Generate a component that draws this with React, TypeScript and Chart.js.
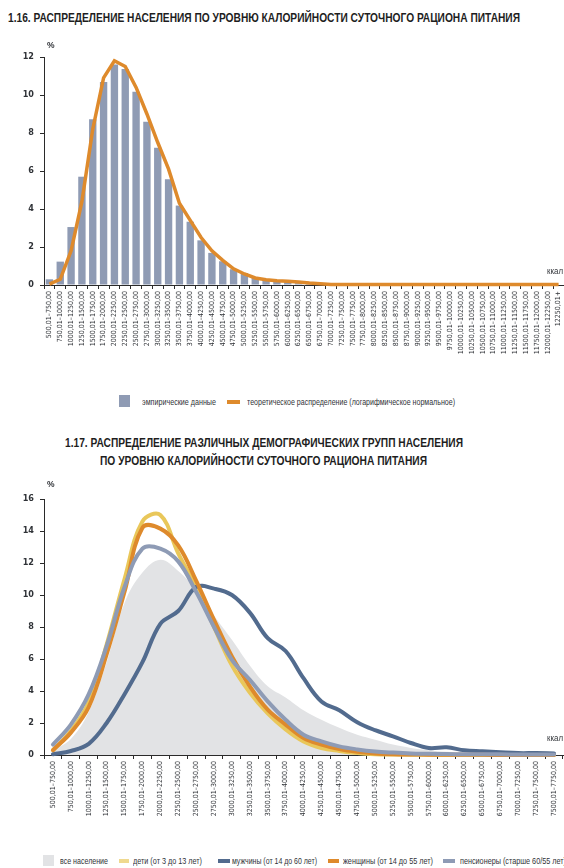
import React, { useEffect, useLayoutEffect, useRef } from 'react';
import { Chart, registerables } from 'chart.js';
Chart.register(...registerables);

const FONT = "'DejaVu Sans Condensed', 'Liberation Sans', sans-serif";
const HFONT = "'Liberation Sans', 'DejaVu Sans', sans-serif";
const TEXT = '#2f3237';

// ---------- Chart 1.16 ----------
const labels116 = [
  '500,01–750,00', '750,01–1000,00', '1000,01–1250,00', '1250,01–1500,00', '1500,01–1750,00',
  '1750,01–2000,00', '2000,01–2250,00', '2250,01–2500,00', '2500,01–2750,00', '2750,01–3000,00',
  '3000,01–3250,00', '3250,01–3500,00', '3500,01–3750,00', '3750,01–4000,00', '4000,01–4250,00',
  '4250,01–4500,00', '4500,01–4750,00', '4750,01–5000,00', '5000,01–5250,00', '5250,01–5500,00',
  '5500,01–5750,00', '5750,01–6000,00', '6000,01–6250,00', '6250,01–6500,00', '6500,01–6750,00',
  '6750,01–7000,00', '7000,01–7250,00', '7250,01–7500,00', '7500,01–7750,00', '7750,01–8000,00',
  '8000,01–8250,00', '8250,01–8500,00', '8500,01–8750,00', '8750,01–9000,00', '9000,01–9250,00',
  '9250,01–9500,00', '9500,01–9750,00', '9750,01–10000,00', '10000,01–10250,00', '10250,01–10500,00',
  '10500,01–10750,00', '10750,01–11000,00', '11000,01–11250,00', '11250,01–11500,00', '11500,01–11750,00',
  '11750,01–12000,00', '12000,01–12250,00', '12250,01+',
];
const empirical116 = [
  0.3, 1.23, 3.05, 5.7, 8.73, 10.69, 11.6, 11.37, 10.17, 8.59,
  7.23, 5.56, 4.18, 3.33, 2.35, 1.69, 1.25, 0.83, 0.63, 0.37,
  0.28, 0.2, 0.15, 0.1, 0.08, 0.05, 0.04, 0.03, 0.02, 0.02,
  0.01, 0.01, 0.01, 0.01, 0, 0, 0, 0, 0, 0,
  0, 0, 0, 0, 0, 0, 0, 0,
];
const theoretical116 = [
  0.05, 0.3, 1.8, 4.4, 8.2, 10.9, 11.8, 11.5, 10.4, 9.0,
  7.5, 6.1, 4.3, 3.4, 2.5, 1.8, 1.3, 0.85, 0.58, 0.37,
  0.28, 0.22, 0.2, 0.16, 0.1, 0.06, 0.03, 0.03, 0.03, 0.03,
  0.03, 0.03, 0.03, 0.03, 0.03, 0.03, 0.03, 0.03, 0.03, 0.03,
  0.03, 0.03, 0.03, 0.03, 0.03, 0.03, 0.03, 0.03,
];
const yTicks116 = [0, 2, 4, 6, 8, 10, 12];

// ---------- Chart 1.17 ----------
const labels117 = [
  '500,01–750,00', '750,01–1000,00', '1000,01–1250,00', '1250,01–1500,00', '1500,01–1750,00',
  '1750,01–2000,00', '2000,01–2250,00', '2250,01–2500,00', '2500,01–2750,00', '2750,01–3000,00',
  '3000,01–3250,00', '3250,01–3500,00', '3500,01–3750,00', '3750,01–4000,00', '4000,01–4250,00',
  '4250,01–4500,00', '4500,01–4750,00', '4750,01–5000,00', '5000,01–5250,00', '5250,01–5500,00',
  '5500,01–5750,00', '5750,01–6000,00', '6000,01–6250,00', '6250,01–6500,00', '6500,01–6750,00',
  '6750,01–7000,00', '7000,01–7250,00', '7250,01–7500,00', '7500,01–7750,00',
];
const allPop117 = [
  0.3, 1.0, 2.7, 5.8, 9.5, 11.4, 12.2, 11.5, 10.3, 8.7,
  7.2, 5.6, 4.3, 3.6, 2.8, 2.2, 1.7, 1.27, 0.96, 0.65,
  0.44, 0.3, 0.2, 0.15, 0.1, 0.08, 0.05, 0.04, 0.03,
];
const children117 = [
  0.3, 1.5, 3.3, 6.9, 11.0, 14.6, 15.0, 12.6, 10.5, 8.0,
  5.6, 3.9, 2.6, 1.6, 0.85, 0.44, 0.25, 0.12, 0.05, 0.03,
  0.02, 0.01, 0, 0, 0, 0, 0, 0, 0,
];
const men117 = [
  0.05, 0.25, 0.7, 2.0, 3.8, 5.8, 8.2, 9.0, 10.5, 10.4,
  10.0, 8.9, 7.3, 6.5, 4.8, 3.35, 2.8, 2.05, 1.55, 1.17,
  0.75, 0.44, 0.48, 0.29, 0.23, 0.17, 0.12, 0.12, 0.1,
];
const women117 = [
  0.3, 1.4, 3.0, 6.3, 10.2, 14.2, 14.15, 13.1, 10.9, 8.45,
  6.16, 4.29, 2.83, 1.9, 1.06, 0.65, 0.37, 0.2, 0.1, 0.05,
  0.03, 0.02, 0.02, 0.01, 0.01, 0, 0, 0, 0,
];
const pensioners117 = [
  0.65, 1.9, 3.8, 6.8, 10.5, 12.9, 12.9, 12.1, 10.2, 8.0,
  5.95, 4.7, 3.35, 2.2, 1.27, 0.85, 0.54, 0.35, 0.22, 0.15,
  0.1, 0.08, 0.06, 0.05, 0.04, 0.04, 0.03, 0.03, 0.03,
];
const yTicks117 = [0, 2, 4, 6, 8, 10, 12, 14, 16];

const C_BAR = '#8f9bb4';
const C_ORANGE = '#de8a2c';
const C_YELLOW = '#e9c75a';
const C_NAVY = '#526b8e';
const C_GREYBLUE = '#8e9bb5';
const C_FILL = '#e2e3e5';

function axisCommon() {
  return {
    grid: { display: true, drawOnChartArea: false, drawTicks: true, tickLength: 4, color: '#2a2a2a', lineWidth: 1, offset: true },
    border: { display: true, color: '#2a2a2a', width: 1 },
  };
}

function makeX(labels: string[], fontSize: number, height: number) {
  return {
    type: 'category',
    labels,
    offset: true,
    ...axisCommon(),
    ticks: {
      autoSkip: false,
      minRotation: 90,
      maxRotation: 90,
      padding: 2,
      color: TEXT,
      font: { family: FONT, size: fontSize },
    },
    afterFit: (s: any) => { s.height = height; s.paddingLeft = 0; s.paddingRight = 0; },
  };
}

function makeY(max: number, ticks: number[]) {
  return {
    min: 0,
    max,
    afterBuildTicks: (s: any) => { s.ticks = ticks.map((v) => ({ value: v })); },
    ...axisCommon(),
    grid: { display: true, drawOnChartArea: false, drawTicks: true, tickLength: 4, color: '#2a2a2a', lineWidth: 1 },
    ticks: { padding: 6, color: TEXT, font: { family: FONT, size: 9, weight: 'bold' } },
    afterFit: (s: any) => { s.width = 44; s.paddingTop = 0; s.paddingBottom = 0; },
  };
}

const abs = (o: React.CSSProperties): React.CSSProperties => ({ position: 'absolute', ...o });

function Fit({ x, y, w, style, children }: { x: number; y: number; w: number; style: React.CSSProperties; children: React.ReactNode }) {
  const r = useRef<HTMLDivElement>(null);
  useLayoutEffect(() => {
    const el = r.current!;
    el.style.transform = 'none';
    const nat = el.getBoundingClientRect().width;
    if (nat > 0) el.style.transform = `scaleX(${w / nat})`;
  }, [w]);
  return (
    <div ref={r} style={{ ...style, position: 'absolute', left: x, top: y, display: 'inline-block', whiteSpace: 'nowrap', transformOrigin: 'left top' }}>
      {children}
    </div>
  );
}

export default function App() {
  const ref1 = useRef<HTMLCanvasElement>(null);
  const ref2 = useRef<HTMLCanvasElement>(null);

  useEffect(() => {
    const c1 = new Chart(ref1.current!, {
      type: 'bar',
      data: {
        labels: labels116,
        datasets: [
          {
            type: 'line',
            label: 'теоретическое распределение (логарифмическое нормальное)',
            data: theoretical116,
            borderColor: C_ORANGE,
            borderWidth: 3.5,
            pointRadius: 0,
            tension: 0,
            fill: false,
            clip: false,
            order: 0,
          } as any,
          {
            type: 'bar',
            label: 'эмпирические данные',
            data: empirical116,
            backgroundColor: C_BAR,
            categoryPercentage: 1,
            barPercentage: 0.68,
            order: 1,
          },
        ],
      },
      options: {
        responsive: false,
        animation: false,
        layout: { padding: { top: 57, left: 0, right: 0, bottom: 0 } },
        plugins: { legend: { display: false }, tooltip: { enabled: false } },
        scales: { x: makeX(labels116, 7, 75) as any, y: makeY(12, yTicks116) as any },
      },
    });

    const lineDs = (label: string, data: number[], color: string, order: number) => ({
      label, data, borderColor: color, borderWidth: 4, pointRadius: 0, tension: 0.38,
      fill: false, clip: false, order, borderCapStyle: 'round', borderJoinStyle: 'round',
    });

    const c2 = new Chart(ref2.current!, {
      type: 'line',
      data: {
        labels: labels117,
        datasets: [
          {
            label: 'все население', data: allPop117, backgroundColor: C_FILL, borderWidth: 0,
            borderColor: C_FILL, pointRadius: 0, tension: 0.38, fill: 'origin', order: 4,
          },
          lineDs('дети (от 3 до 13 лет)', children117, C_YELLOW, 3),
          lineDs('мужчины (от 14 до 60 лет)', men117, C_NAVY, 2),
          lineDs('женщины (от 14 до 55 лет)', women117, C_ORANGE, 1),
          lineDs('пенсионеры (старше 60/55 лет)', pensioners117, C_GREYBLUE, 0),
        ] as any,
      },
      options: {
        responsive: false,
        animation: false,
        layout: { padding: { top: 29, left: 0, right: 1, bottom: 0 } },
        plugins: { legend: { display: false }, tooltip: { enabled: false } },
        scales: { x: makeX(labels117, 7, 75) as any, y: makeY(16, yTicks117) as any },
      },
    });

    return () => { c1.destroy(); c2.destroy(); };
  }, []);

  const small: React.CSSProperties = { fontFamily: HFONT, fontSize: 8.5, color: TEXT, lineHeight: '10px' };
  const title: React.CSSProperties = { fontFamily: HFONT, fontSize: 12.5, fontWeight: 'bold', color: '#1e1e1e', lineHeight: '16px' };

  return (
    <div style={abs({ left: 0, top: 0, width: 564, height: 868, background: '#fff', overflow: 'hidden' })}>
      <Fit x={8} y={10} w={512} style={title}>
        1.16. РАСПРЕДЕЛЕНИЕ НАСЕЛЕНИЯ ПО УРОВНЮ КАЛОРИЙНОСТИ СУТОЧНОГО РАЦИОНА ПИТАНИЯ
      </Fit>
      <canvas ref={ref1} width={564} height={360} style={abs({ left: 0, top: 0, width: 564, height: 360 })} />
      <div style={abs({ ...small, left: 47, top: 40, fontWeight: 'bold' })}>%</div>
      <Fit x={547} y={266} w={16} style={small}>ккал</Fit>
      <div style={abs({ left: 119, top: 395, width: 11, height: 12, background: C_BAR })} />
      <Fit x={142} y={397} w={74} style={small}>эмпирические данные</Fit>
      <div style={abs({ left: 227, top: 400, width: 13, height: 4, background: C_ORANGE })} />
      <Fit x={247} y={397} w={208} style={small}>теоретическое распределение (логарифмическое нормальное)</Fit>

      <Fit x={65} y={435} w={398} style={title}>
        1.17. РАСПРЕДЕЛЕНИЕ РАЗЛИЧНЫХ ДЕМОГРАФИЧЕСКИХ ГРУПП НАСЕЛЕНИЯ
      </Fit>
      <Fit x={100} y={453} w={327} style={title}>
        ПО УРОВНЮ КАЛОРИЙНОСТИ СУТОЧНОГО РАЦИОНА ПИТАНИЯ
      </Fit>
      <canvas ref={ref2} width={564} height={360} style={abs({ left: 0, top: 470, width: 564, height: 360 })} />
      <div style={abs({ ...small, left: 47, top: 479, fontWeight: 'bold' })}>%</div>
      <Fit x={547} y={733} w={16} style={small}>ккал</Fit>

      <div style={abs({ left: 43, top: 855, width: 11, height: 11, background: C_FILL })} />
      <Fit x={60} y={856} w={48} style={small}>все население</Fit>
      <div style={abs({ left: 119, top: 859, width: 10, height: 4, background: '#efd98f' })} />
      <Fit x={133} y={856} w={69} style={small}>дети (от 3 до 13 лет)</Fit>
      <div style={abs({ left: 218, top: 859, width: 12, height: 4, background: C_NAVY })} />
      <Fit x={232} y={856} w={85} style={small}>мужчины (от 14 до 60 лет)</Fit>
      <div style={abs({ left: 328, top: 859, width: 11, height: 4, background: C_ORANGE })} />
      <Fit x={343} y={856} w={90} style={small}>женщины (от 14 до 55 лет)</Fit>
      <div style={abs({ left: 443, top: 859, width: 12, height: 4, background: C_GREYBLUE })} />
      <Fit x={460} y={856} w={106} style={small}>пенсионеры (старше 60/55 лет)</Fit>
    </div>
  );
}
